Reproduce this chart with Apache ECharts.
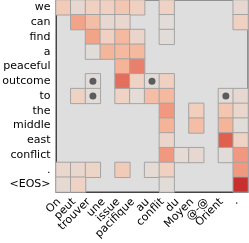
<!DOCTYPE html>
<html><head><meta charset="utf-8">
<script src="https://cdn.jsdelivr.net/npm/echarts@6/dist/echarts.min.js"></script>
<style>html,body{margin:0;padding:0;background:#fff}#c{width:249px;height:243px}</style>
</head><body><div id="c"></div>
<script>
const xLabels = ['On','peut','trouver','une','issue','pacifique','au','conflit','du','Moyen','@-@','Orient','.'];
const yLabels = ['we','can','find','a','peaceful','outcome','to','the','middle','east','conflict','.','<EOS>'];
const _ = null;
const weights = [
  [0.22,0.07,0.17,0.17,0.25,0.17,_,0.15,_,_,_,_,0.07],
  [_,0.45,0.30,0.07,0.10,_,_,0.02,_,_,_,_,0.17],
  [_,_,0.45,0.17,0.33,0.12,_,0.02,_,_,_,_,_],
  [_,_,0.02,0.35,0.33,0.33,_,_,_,_,_,_,_],
  [_,_,_,_,0.37,0.62,_,_,_,_,_,_,_],
  [_,_,0.02,_,0.72,0.15,0.02,0.17,_,_,_,_,_],
  [_,0.15,0.02,_,0.15,0.03,0.30,0.33,_,_,_,0.02,0.07],
  [_,_,_,_,_,_,_,0.50,_,0.20,_,0.25,0.10],
  [_,_,_,_,_,_,_,0.37,_,0.30,_,0.37,0.02],
  [_,_,_,_,_,_,_,0.12,_,_,_,0.80,0.15],
  [_,_,_,_,_,_,_,0.50,0.05,0.07,_,0.02,0.50],
  [0.10,0.10,0.13,_,0.22,_,0.05,0.17,_,_,_,_,0.50],
  [0.06,0.15,_,_,_,_,_,0.02,_,_,_,_,1.00]
];
const markers = [[2,5],[6,5],[2,6],[11,6]];

const cells = [];
weights.forEach((row,i)=>row.forEach((v,j)=>{ if(v!==null) cells.push([j,i,v]); }));

const chart = echarts.init(document.getElementById('c'));
const font = 'DejaVu Sans';
chart.setOption({
  animation:false,
  grid:{left:56,top:0,right:1,bottom:51,outerBoundsMode:'none',containLabel:false,show:true,backgroundColor:'#dedede',borderColor:'#444',borderWidth:1},
  xAxis:{type:'category',data:xLabels,
    axisLine:{lineStyle:{color:'#444'}},
    axisTick:{alignWithLabel:true,length:3.5,lineStyle:{color:'#444'}},
    axisLabel:{rotate:45,margin:4,padding:[0,6,0,0],color:'#000',fontSize:11,fontFamily:font,interval:0},
    splitLine:{show:false}},
  yAxis:{type:'category',data:yLabels,inverse:true,
    axisLine:{lineStyle:{color:'#444'}},
    axisTick:{alignWithLabel:true,length:3.5,lineStyle:{color:'#444'}},
    axisLabel:{margin:5.5,color:'#000',fontSize:11,fontFamily:font,interval:0},
    splitLine:{show:false}},
  visualMap:{show:false,min:0,max:1,dimension:2,seriesIndex:0,
    inRange:{color:['#e0dedc','#f2cebc','#f5ae90','#ea8470','#e06050','#c83030']}},
  series:[
    {type:'heatmap',data:cells,itemStyle:{borderColor:'#a4a4a4',borderWidth:1}},
    {type:'scatter',data:markers,symbolSize:7,itemStyle:{color:'#3c3c3c'},z:5}
  ]
});
</script></body></html>
